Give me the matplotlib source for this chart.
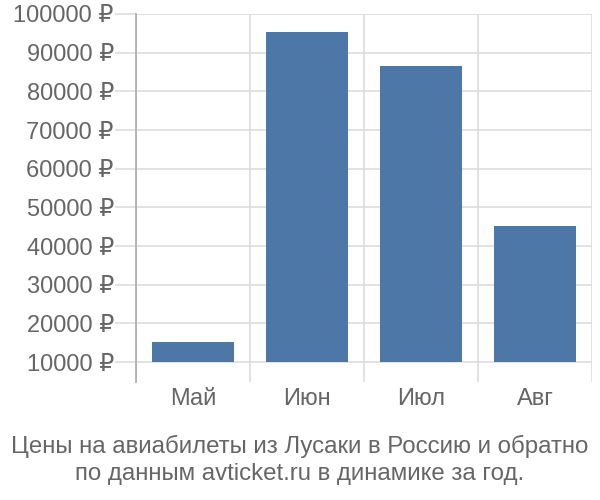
import numpy as np
import matplotlib.pyplot as plt
from matplotlib.ticker import FixedLocator

plt.rcParams['font.family'] = ['Liberation Sans', 'DejaVu Sans']

months = ['Май', 'Июн', 'Июл', 'Авг']
prices = [15200, 95400, 86500, 45100]
y_ticks = [10000, 20000, 30000, 40000, 50000, 60000, 70000, 80000, 90000, 100000]
title = 'Цены на авиабилеты из Лусаки в Россию и обратно\nпо данным avticket.ru в динамике за год.'

text_color = '#666666'
grid_color = '#dddddd'
base = 10000

fig = plt.figure(figsize=(6, 5), dpi=100)
ax = fig.add_axes([136 / 600, 1 - 382 / 500, 456 / 600, 368 / 500])

x = np.arange(len(months))
heights = [p - base for p in prices]
ax.bar(x, heights, bottom=base, width=0.72, color='#4c77a6', zorder=3)

ax.set_xlim(-0.5, len(months) - 0.5)
ax.set_ylim(base - 20 / 38.67 * 10000, 100000)

ax.set_yticks(y_ticks)
ax.set_yticklabels(['%d ₽' % v for v in y_ticks])
ax.set_xticks(x)
ax.set_xticklabels(months)
ax.xaxis.set_minor_locator(FixedLocator(np.arange(-0.5, len(months), 1.0)))

ax.grid(axis='y', which='major', color=grid_color, linewidth=1.2, zorder=0)
ax.grid(axis='x', which='minor', color=grid_color, linewidth=1.2, zorder=0)

ax.tick_params(axis='y', length=15, width=1.2, color=grid_color, pad=1,
               labelsize=17, labelcolor=text_color)
ax.tick_params(axis='x', which='major', length=0, pad=4,
               labelsize=17, labelcolor=text_color)
ax.tick_params(axis='x', which='minor', length=0)

for side in ['top', 'right', 'bottom']:
    ax.spines[side].set_visible(False)
ax.spines['left'].set_color('#aaaaaa')
ax.spines['left'].set_linewidth(1.2)

fig.text(0.5, 1 - 460 / 500, title, ha='center', va='center', fontsize=17.3,
         color=text_color, linespacing=1.3)

fig.savefig('out.png', dpi=100)
